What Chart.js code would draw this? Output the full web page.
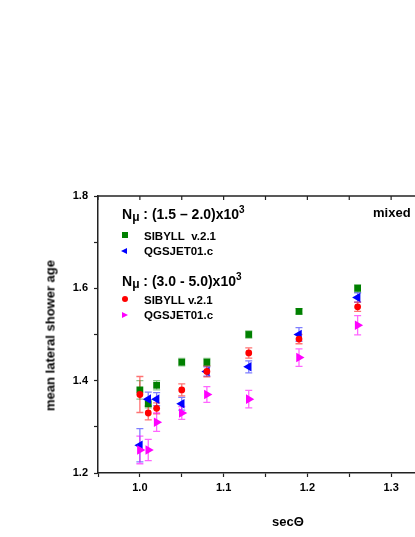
<!DOCTYPE html>
<html>
<head>
<meta charset="utf-8">
<script src="https://cdn.jsdelivr.net/npm/chart.js@4"></script>
<style>
  html, body { margin: 0; padding: 0; background: #fff; }
  #wrap { position: relative; width: 415px; height: 537px; overflow: hidden; background: #fff; }
  #box { position: absolute; left: 0; top: 0; width: 450px; height: 537px; }
  .txt { position: absolute; white-space: nowrap; font-family: "Liberation Sans", Arial, sans-serif; font-weight: bold; color: #000; }
  .hdr { font-size: 14px; line-height: 14px; }
  .hdr .sub { font-size: 12px; position: relative; top: 2px; }
  .hdr .sup { font-size: 10px; position: relative; top: -6px; }
  .ent { font-size: 11.5px; line-height: 12px; }
  .mk { position: absolute; }
</style>
</head>
<body>
<div id="wrap">
  <div id="box"><canvas id="chart"></canvas></div>

  <div class="txt hdr" style="left:122px;top:207px">N<span class="sub">μ</span> : (1.5 – 2.0)x10<span class="sup">3</span></div>
  <div class="mk" style="left:122px;top:232px;width:6px;height:6px;background:#008000"></div>
  <div class="txt ent" style="left:144px;top:229.5px">SIBYLL&nbsp; v.2.1</div>
  <div class="mk" style="left:121px;top:248px;width:0;height:0;border-top:3px solid transparent;border-bottom:3px solid transparent;border-right:6px solid #0000ff"></div>
  <div class="txt ent" style="left:144px;top:245px">QGSJET01.c</div>

  <div class="txt hdr" style="left:122px;top:274px">N<span class="sub">μ</span> : (3.0 - 5.0)x10<span class="sup">3</span></div>
  <div class="mk" style="left:122px;top:296px;width:6px;height:6px;border-radius:50%;background:#ff0000"></div>
  <div class="txt ent" style="left:144px;top:293.5px">SIBYLL v.2.1</div>
  <div class="mk" style="left:122px;top:312px;width:0;height:0;border-top:3px solid transparent;border-bottom:3px solid transparent;border-left:6px solid #ff00ff"></div>
  <div class="txt ent" style="left:144px;top:309px">QGSJET01.c</div>

  <div class="txt" style="left:373px;top:206px;font-size:13px;line-height:13px">mixed</div>

  <div class="txt" style="left:-50px;top:329px;width:200px;text-align:center;font-size:13px;line-height:13px;transform:rotate(-90deg)">mean lateral shower age</div>
  <div class="txt" style="left:238px;top:515px;width:100px;text-align:center;font-size:13px;line-height:13px">secΘ</div>
</div>

<script>
// sec(theta) bins
var secTheta = [1.00, 1.01, 1.02, 1.05, 1.08, 1.13, 1.19, 1.26];

// N_mu (1.5 - 2.0)x10^3
var sib_low = [1.38, 1.35, 1.39, 1.44, 1.44, 1.50, 1.55, 1.60];
var sib_low_err = [0.020, 0.009, 0.010, 0.008, 0.008, 0.008, 0.006, 0.008];
var qgs_low = [1.26, 1.36, 1.36, 1.35, 1.42, 1.43, 1.50, 1.58];
var qgs_low_err = [0.036, 0.015, 0.014, 0.014, 0.010, 0.013, 0.015, 0.010];

// N_mu (3.0 - 5.0)x10^3
var sib_high = [1.37, 1.33, 1.34, 1.38, 1.42, 1.46, 1.49, 1.56];
var sib_high_err = [0.039, 0.015, 0.012, 0.013, 0.012, 0.011, 0.010, 0.010];
var qgs_high = [1.25, 1.25, 1.31, 1.33, 1.37, 1.36, 1.45, 1.52];
var qgs_high_err = [0.030, 0.023, 0.020, 0.014, 0.017, 0.019, 0.019, 0.021];

var xTicksMin = 0.95, xTicksMax = 1.35;
var yTicksMin = 1.2, yTicksMax = 1.8;

function pts(ys) {
  return secTheta.map(function(x, i) { return { x: x, y: ys[i] }; });
}

// error bars, drawn under the markers
var errorBars = {
  id: 'errorBars',
  beforeDatasetsDraw: function(chart) {
    var ctx = chart.ctx;
    var xs = chart.scales.x, ys = chart.scales.y;
    ctx.save();
    chart.data.datasets.forEach(function(ds) {
      ctx.strokeStyle = ds.errColor;
      ctx.lineWidth = 1.3;
      ds.data.forEach(function(p, i) {
        var x = xs.getPixelForValue(p.x);
        var y1 = ys.getPixelForValue(p.y - ds.errors[i]);
        var y2 = ys.getPixelForValue(p.y + ds.errors[i]);
        ctx.beginPath();
        ctx.moveTo(x, y1); ctx.lineTo(x, y2);
        ctx.moveTo(x - 3.5, y1); ctx.lineTo(x + 3.5, y1);
        ctx.moveTo(x - 3.5, y2); ctx.lineTo(x + 3.5, y2);
        ctx.stroke();
      });
    });
    ctx.restore();
  }
};

// top frame line with inward ticks
var topAxis = {
  id: 'topAxis',
  afterDraw: function(chart) {
    var ctx = chart.ctx, a = chart.chartArea, xs = chart.scales.x;
    ctx.save();
    ctx.strokeStyle = '#222';
    ctx.lineWidth = 1.5;
    ctx.beginPath();
    ctx.moveTo(a.left, a.top); ctx.lineTo(a.right, a.top);
    ctx.stroke();
    ctx.lineWidth = 1.2;
    xs.ticks.forEach(function(t) {
      var x = xs.getPixelForValue(t.value);
      ctx.beginPath();
      ctx.moveTo(x, a.top); ctx.lineTo(x, a.top + 4);
      ctx.stroke();
    });
    ctx.restore();
  }
};

var tickFont = { family: '"Liberation Sans", Arial, sans-serif', size: 11, weight: 'bold' };

new Chart(document.getElementById('chart'), {
  type: 'scatter',
  data: {
    datasets: [
      { label: 'SIBYLL v.2.1 low', data: pts(sib_low), errors: sib_low_err, errColor: 'rgba(0,128,0,0.45)',
        pointStyle: 'rect', pointRadius: 4.8, backgroundColor: '#008000', borderColor: '#008000', borderWidth: 0, order: 4 },
      { label: 'QGSJET01.c low', data: pts(qgs_low), errors: qgs_low_err, errColor: 'rgba(0,0,255,0.5)',
        pointStyle: 'triangle', rotation: -90, pointRadius: 5.5, backgroundColor: '#0000ff', borderColor: '#0000ff', borderWidth: 0, order: 3 },
      { label: 'SIBYLL v.2.1 high', data: pts(sib_high), errors: sib_high_err, errColor: 'rgba(255,0,0,0.55)',
        pointStyle: 'circle', pointRadius: 3.4, backgroundColor: '#ff0000', borderColor: '#ff0000', borderWidth: 0, order: 2 },
      { label: 'QGSJET01.c high', data: pts(qgs_high), errors: qgs_high_err, errColor: 'rgba(255,0,255,0.6)',
        pointStyle: 'triangle', rotation: 90, pointRadius: 5.5, backgroundColor: '#ff00ff', borderColor: '#ff00ff', borderWidth: 0, order: 1 }
    ]
  },
  options: {
    responsive: true,
    maintainAspectRatio: false,
    animation: false,
    layout: { padding: { top: 196, right: 17, left: 0, bottom: 0 } },
    plugins: { legend: { display: false }, tooltip: { enabled: false } },
    scales: {
      x: {
        type: 'linear', min: xTicksMin, max: xTicksMax,
        afterFit: function(scale) { scale.height = 64; },
        border: { display: true, color: '#222', width: 1.5 },
        grid: { display: true, drawOnChartArea: false, drawTicks: true, tickLength: 4, color: '#222', tickWidth: 1.2 },
        ticks: {
          stepSize: 0.05, autoSkip: false, maxRotation: 0, padding: 4, color: '#000', font: tickFont,
          callback: function(v) { return Math.abs(v * 10 - Math.round(v * 10)) < 1e-6 ? v.toFixed(1) : ''; }
        }
      },
      y: {
        type: 'linear', min: yTicksMin, max: yTicksMax,
        afterFit: function(scale) { scale.width = 98; },
        border: { display: true, color: '#222', width: 1.5 },
        grid: { display: true, drawOnChartArea: false, drawTicks: true, tickLength: 4, color: '#222', tickWidth: 1.2 },
        ticks: {
          stepSize: 0.1, autoSkip: false, padding: 6, color: '#000', font: tickFont,
          callback: function(v) { return Math.round(v * 10) % 2 === 0 ? v.toFixed(1) : ''; }
        }
      }
    }
  },
  plugins: [errorBars, topAxis]
});
</script>
</body>
</html>
